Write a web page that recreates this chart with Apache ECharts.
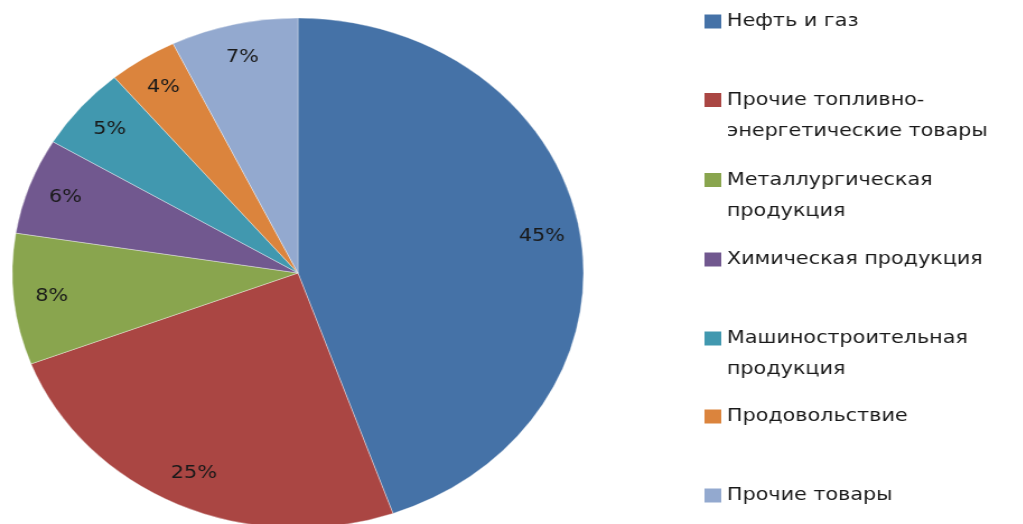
<!DOCTYPE html>
<html>
<head>
<meta charset="utf-8">
<script src="https://cdn.jsdelivr.net/npm/echarts@6/dist/echarts.min.js"></script>
<style>
html,body{margin:0;padding:0;background:#fff;overflow:hidden;width:1023px;height:524px;}
#wrap{width:1023px;height:524px;overflow:hidden;}
#chart{width:914px;height:524px;transform:scaleX(1.12);transform-origin:0 0;}
</style>
</head>
<body>
<div id="wrap"><div id="chart"></div></div>
<script>
const categories = [
  'Нефть и газ',
  'Прочие топливно-\nэнергетические товары',
  'Металлургическая\nпродукция',
  'Химическая продукция',
  'Машиностроительная\nпродукция',
  'Продовольствие',
  'Прочие товары'
];
const shares = [44.6, 24.6, 8.3, 6.1, 5.3, 3.9, 7.2];
const colors = ['#4572A7', '#AA4643', '#89A54E', '#71588F', '#4198AF', '#DB843D', '#93A9CF'];

const legendTops = [6, 53.5, 133.5, 244, 292, 401, 480];
const LH = 31;

const data = categories.map((n, i) => ({ name: n, value: shares[i], itemStyle: { color: colors[i] } }));

const legends = categories.map((n, i) => {
  const multi = n.indexOf('\n') >= 0;
  return {
    show: true,
    data: [n],
    orient: 'vertical',
    left: 629,
    top: legendTops[i],
    padding: 0,
    icon: 'rect',
    itemWidth: 15,
    itemHeight: 14,
    itemGap: 0,
    selectedMode: false,
    formatter: function (name) { return multi ? '\n' + name : name; },
    itemStyle: { borderWidth: 0 },
    textStyle: {
      fontFamily: 'DejaVu Sans',
      fontSize: 18.5,
      color: '#1a1a1a',
      lineHeight: LH
    }
  };
});

const chart = echarts.init(document.getElementById('chart'), null, { renderer: 'canvas' });
chart.setOption({
  animation: false,
  backgroundColor: '#fff',
  legend: legends,
  series: [
    {
      type: 'pie',
      center: [266, 273],
      radius: [0, 255],
      startAngle: 90,
      clockwise: true,
      data: data,
      label: { show: false },
      labelLine: { show: false },
      itemStyle: { borderColor: 'rgba(255,255,255,0.6)', borderWidth: 0.6 },
      emphasis: { disabled: true },
      silent: true
    },
    {
      type: 'pie',
      center: [266, 273],
      radius: [0, 436],
      startAngle: 90,
      clockwise: true,
      data: categories.map((n, i) => ({ name: n, value: shares[i] })),
      itemStyle: { color: 'rgba(0,0,0,0)', borderWidth: 0 },
      label: {
        show: true,
        position: 'inside',
        formatter: function (p) { return Math.round(p.percent) + '%'; },
        fontFamily: 'DejaVu Sans',
        fontSize: 18.5,
        color: '#1a1a1a'
      },
      labelLine: { show: false },
      emphasis: { disabled: true },
      silent: true,
      z: 3
    }
  ]
});
</script>
</body>
</html>
